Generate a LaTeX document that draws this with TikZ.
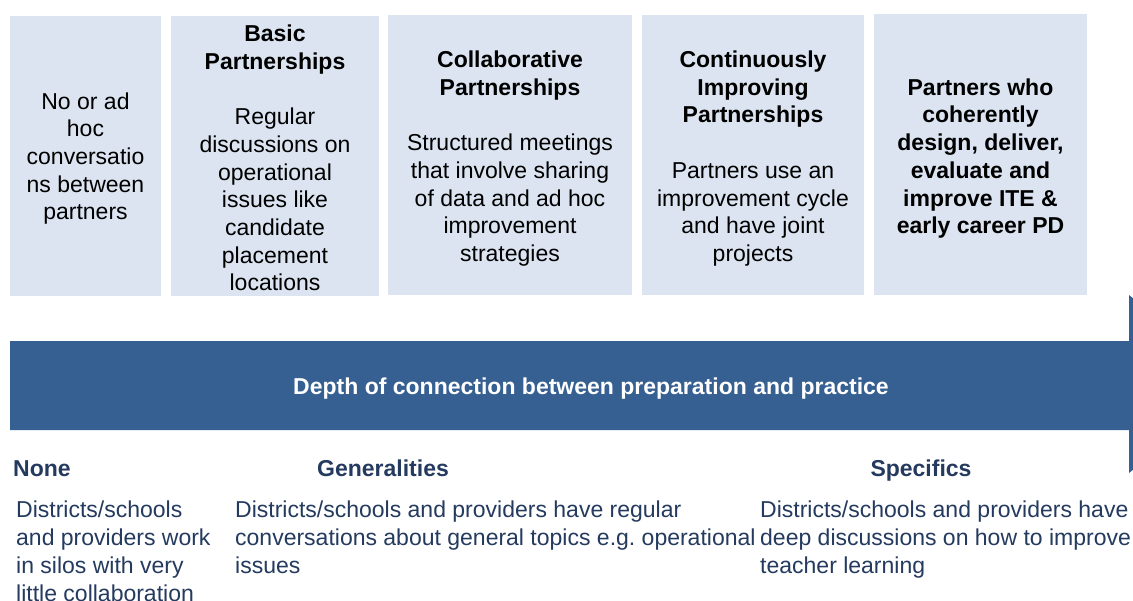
\documentclass[tikz,border=0pt]{standalone}
\usepackage{fontspec}
\setmainfont{Liberation Sans}
\frenchspacing
\definecolor{boxfill}{HTML}{DBE4F0}
\definecolor{barblue}{HTML}{376092}
\definecolor{navy}{HTML}{243A5E}
\begin{document}
\frenchspacing
\begin{tikzpicture}[x=1pt,y=-1pt,
  lvlbox/.style={fill=boxfill,draw=none},
  boxtext/.style={align=center,inner sep=0pt,text=black,font=\fontsize{23}{27.7}\selectfont},
  colhead/.style={inner sep=0pt,text=navy,font=\fontsize{23}{28}\selectfont\bfseries},
  coltext/.style={align=left,inner sep=0pt,text=navy,font=\fontsize{23}{28}\selectfont,anchor=north west}]
\useasboundingbox (0,0) rectangle (1133,600);
\fill[white] (0,0) rectangle (1133,600);
% level boxes
\fill[lvlbox] (10,16) rectangle (161,296);
\fill[lvlbox] (171,16) rectangle (379,296);
\fill[lvlbox] (388,15) rectangle (632,295);
\fill[lvlbox] (642,15) rectangle (864,295);
\fill[lvlbox] (874,14) rectangle (1087,295);
\node[boxtext] (b1) at (85.5,158.5) {No or ad\\hoc\\conversatio\\ns between\\partners};
\node[boxtext] (b2) at (275,158) {\textbf{Basic}\\\textbf{Partnerships}\\[27.7pt]Regular\\discussions on\\operational\\issues like\\candidate\\placement\\locations};
\node[boxtext] (b3) at (510,158.5) {\textbf{Collaborative}\\\textbf{Partnerships}\\[27.7pt]Structured meetings\\that involve sharing\\of data and ad hoc\\improvement\\strategies};
\node[boxtext] (b4) at (753,158.5) {\textbf{Continuously}\\\textbf{Improving}\\\textbf{Partnerships}\\[27.7pt]Partners use an\\improvement cycle\\and have joint\\projects};
\node[boxtext,font=\fontsize{23}{27.7}\selectfont\bfseries] (b5) at (980.5,158.5) {Partners who\\coherently\\design, deliver,\\evaluate and\\improve ITE \&\\early career PD};
% arrow bar
\begin{scope}
\clip (0,0) rectangle (1133,600);
\fill[barblue] (10,341) -- (1129,341) -- (1129,295) -- (1240,384) -- (1129,473) -- (1129,430) -- (10,430) -- cycle;
\end{scope}
\node[inner sep=0pt,text=white,font=\fontsize{23}{28}\selectfont\bfseries] (bar) at (591,388.5) {Depth of connection between preparation and practice};
% bottom columns
\node[colhead,anchor=base west] (h1) at (13,476) {None};
\node[colhead,anchor=base] (h2) at (383,476) {Generalities};
\node[colhead,anchor=base] (h3) at (921,476) {Specifics};
\node[coltext] (t1) at (16,501) {Districts/schools\\and providers work\\in silos with very\\little collaboration};
\node[coltext] (t2) at (235,501) {Districts/schools and providers have regular\\conversations about general topics e.g. operational\\issues};
\node[coltext] (t3) at (760,501) {Districts/schools and providers have\\deep discussions on how to improve\\teacher learning};
\end{tikzpicture}
\end{document}
